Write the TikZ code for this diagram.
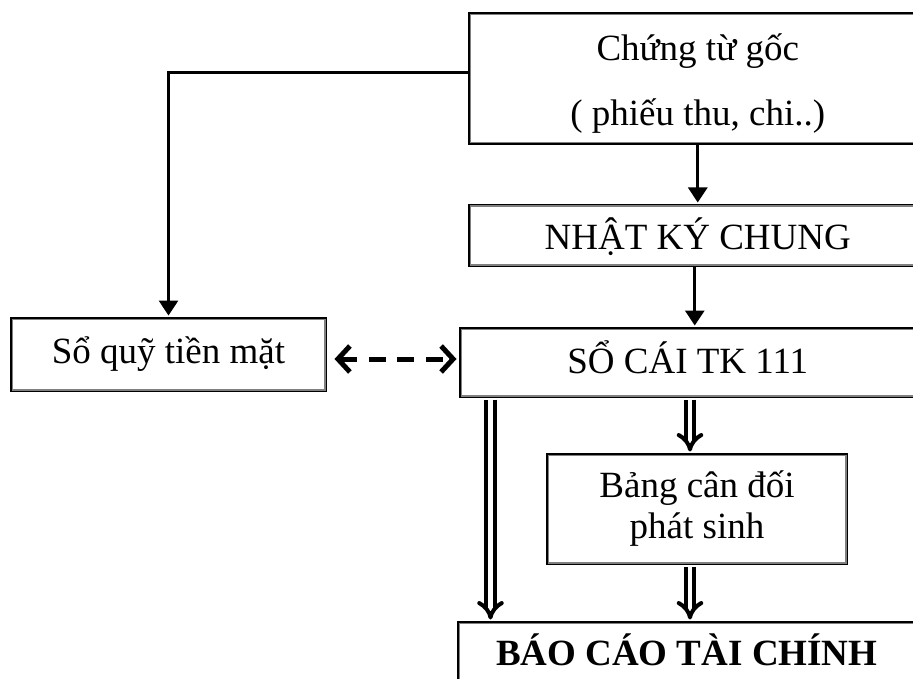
\documentclass[tikz,border=0pt]{standalone}
\usepackage{fontspec}
\setmainfont{Liberation Serif}
\usetikzlibrary{arrows.meta}

\begin{document}
\begin{tikzpicture}[x=1pt,y=-1pt,
  box/.style={draw, line width=3pt, inner sep=0pt, align=center,
    font=\fontsize{37}{44}\selectfont},
  flow/.style={line width=3pt, shorten >=1.5pt,
    -{Triangle[length=15pt,width=19pt]}},
  link/.style={line width=5pt, dash pattern=on 17pt off 11.5pt,
    {Straight Barb[length=12pt,width=26pt,line width=5pt]}-{Straight Barb[length=12pt,width=26pt,line width=5pt]}},
  dflow/.style={double, line width=4pt, double distance=4.5pt,
    shorten <=1.5pt, shorten >=1.5pt, -{Implies[scale=1.3]}}]

  \clip (0,0) rectangle (913,679);

  % boxes
  \node[box, minimum width=456.5pt, minimum height=129.5pt,
    font=\fontsize{37}{65}\selectfont]
    (goc) at (697.75,78.5) {\rule{0pt}{36pt}Chứng từ gốc\\( phiếu thu, chi..)};
  \node[box, minimum width=456.5pt, minimum height=60pt, text height=29pt, text depth=0pt]
    (nkc) at (697.75,235.5) {NHẬT KÝ CHUNG};
  \node[box, minimum width=454.5pt, minimum height=68pt, text height=26pt, text depth=5pt]
    (socai) at (687.75,362.5) {SỔ CÁI TK 111};
  \node[box, minimum width=314pt, minimum height=72pt, text height=26pt, text depth=9pt]
    (soquy) at (168.5,354.5) {Sổ quỹ tiền mặt};
  \node[box, minimum width=299pt, minimum height=109pt,
    font=\fontsize{37}{41}\selectfont]
    (bang) at (697,509) {Bảng cân đối\\phát sinh};
  \node[box, minimum width=456.5pt, minimum height=60.5pt, text height=26pt, text depth=0pt]
    (bctc) at (686.75,652.75) {\bfseries BÁO CÁO TÀI CHÍNH};

  % grey inner frame of every box
  \foreach \n in {goc,nkc,socai,soquy,bang,bctc}
    \draw[gray, line width=1.5pt]
      ([shift={(2.25pt,-2.25pt)}]\n.north west) rectangle
      ([shift={(-2.25pt,2.25pt)}]\n.south east);

  % connectors
  \draw[flow] (goc.south) -- (nkc.north);
  \draw[flow] ([xshift=-3pt]nkc.south) -- ([xshift=-3pt]nkc.south |- socai.north);
  \draw[flow] ([yshift=5.5pt]goc.west) -| (soquy.north);
  \draw[link, shorten <=7.5pt, shorten >=2.5pt]
    ([yshift=-4.5pt]soquy.east) -- ([yshift=-4.5pt]soquy.east -| socai.west);
  \draw[dflow] ([xshift=31.5pt]socai.south west) -- ([xshift=31.5pt]socai.south west |- bctc.north);
  \draw[dflow] ([xshift=2.25pt]socai.south) -- ([xshift=2.25pt]socai.south |- bang.north);
  \draw[dflow] ([xshift=2.25pt]socai.south |- bang.south) -- ([xshift=2.25pt]socai.south |- bctc.north);
\end{tikzpicture}
\end{document}
